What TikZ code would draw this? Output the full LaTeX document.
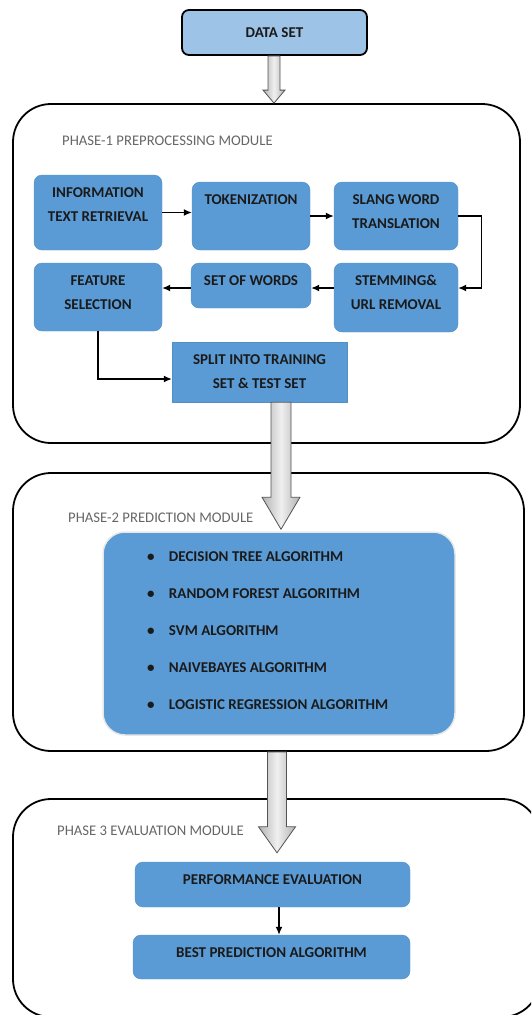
\documentclass[tikz,border=0pt]{standalone}
\usepackage{fontspec}
\setmainfont{Carlito}
\usetikzlibrary{arrows.meta,calc}
\definecolor{boxblue}{HTML}{5B9BD5}
\definecolor{dsblue}{HTML}{9DC3E6}
\definecolor{txtc}{HTML}{1A1A1A}
\definecolor{lblc}{HTML}{666666}

\newcommand\bxt[3]{\parbox[c][#2][t]{#1}{\centering\vspace*{12.5pt}#3\par}}
\newcommand\fatarrow[6]{%
  \draw[fat] let \p1=(#2), \p2=(#3) in
    (#1pt-#4pt,\y1) -- (#1pt+#4pt,\y1) -- (#1pt+#4pt,\y2+#6pt) -- (#1pt+#5pt,\y2+#6pt)
    -- (#1pt,\y2) -- (#1pt-#5pt,\y2+#6pt) -- (#1pt-#4pt,\y2+#6pt) -- cycle;}

\tikzset{
  phase/.style={draw=black, line width=1.8pt, rounded corners=38pt, inner sep=0pt},
  bluebox/.style={fill=boxblue, draw=boxblue!92!black, line width=0.4pt, rounded corners=8pt,
    inner sep=0pt, font=\bfseries\fontsize{15}{24}\selectfont, text=txtc},
  sqbox/.style={bluebox, rounded corners=0pt},
  dsbox/.style={fill=dsblue, draw=black, line width=1.8pt, rounded corners=7pt,
    minimum width=185pt, minimum height=45pt, inner sep=0pt,
    font=\bfseries\fontsize{15}{18}\selectfont, text=txtc},
  algbox/.style={fill=boxblue, draw=gray!18, line width=1.5pt, rounded corners=22pt,
    inner sep=0pt, font=\bfseries, text=txtc},
  phlabel/.style={anchor=west, inner sep=0pt, font=\fontsize{14.7}{17}\selectfont, text=lblc},
  conn/.style={draw=black, line width=1.3pt, -{Latex[length=8pt,width=7pt]}},
  fat/.style={draw=gray!65!black, line width=0.8pt, left color=gray!60, right color=gray!60, middle color=gray!12},
}

\begin{document}
\begin{tikzpicture}[x=1pt,y=-1pt]
\useasboundingbox (0,0) rectangle (531,1015);
\clip (0,0) rectangle (531,1015);

% phase containers
\node[phase, minimum width=507pt, minimum height=339pt] (p1) at (266.5,273.5) {};
\node[phase, minimum width=511pt, minimum height=278pt] (p2) at (268.5,612) {};
\node[phase, minimum width=527pt, minimum height=218pt] (p3) at (276.5,908) {};

\node[phlabel] (l1) at (62,141) {PHASE-1 PREPROCESSING MODULE};
\node[phlabel] (l2) at (68,518) {PHASE-2 PREDICTION MODULE};
\node[phlabel] (l3) at (57,831) {PHASE 3 EVALUATION MODULE};

% data set
\node[dsbox] (ds) at (274.5,32.5) {DATA SET};

% phase 1 boxes
\node[bluebox] (info)  at (98,212.5)  {\bxt{128pt}{75pt}{INFORMATION\\TEXT RETRIEVAL}};
\node[bluebox] (tok)   at (251,216)   {\bxt{118pt}{68pt}{TOKENIZATION}};
\node[bluebox] (slang) at (396,216)   {\bxt{124pt}{68pt}{SLANG WORD\\TRANSLATION}};
\node[bluebox] (feat)  at (98,297)    {\bxt{128pt}{68pt}{FEATURE\\SELECTION}};
\node[bluebox] (set)   at (251,285.5) {\bxt{120pt}{45pt}{SET OF WORDS}};
\node[bluebox] (stem)  at (396,297.5) {\bxt{124pt}{69pt}{STEMMING\&\\URL REMOVAL}};
\node[sqbox]   (split) at (259.5,372) {\bxt{175pt}{60pt}{SPLIT INTO TRAINING\\SET \& TEST SET}};

% phase 2 box
\node[algbox] (alg) at (279,633.5) {\parbox[c][203pt][t]{352pt}{\leftskip=44pt
  \fontsize{15}{37}\selectfont\vspace*{20pt}%
  \makebox[22pt][l]{\textbullet}DECISION TREE ALGORITHM\\
  \makebox[22pt][l]{\textbullet}RANDOM FOREST ALGORITHM\\
  \makebox[22pt][l]{\textbullet}SVM ALGORITHM\\
  \makebox[22pt][l]{\textbullet}NAIVEBAYES ALGORITHM\\
  \makebox[22pt][l]{\textbullet}LOGISTIC REGRESSION ALGORITHM\par}};

% phase 3 boxes
\node[bluebox] (perf) at (272.5,884.5) {\bxt{275pt}{45pt}{PERFORMANCE EVALUATION}};
\node[bluebox] (best) at (271.5,957)   {\bxt{277pt}{44pt}{BEST PREDICTION ALGORITHM}};

% connectors
\draw[conn] (info.east) -- (info.east -| tok.west);
\draw[conn] (tok.east) -- (slang.west);
\draw[conn] (slang.east) -- ++(23,0) |- ([yshift=9.5pt]stem.east);
\draw[conn] ([yshift=9.5pt]stem.west) -- ([yshift=9.5pt]stem.west -| set.east);
\draw[conn] ([yshift=-2.5pt]set.west) -- ([yshift=-2.5pt]set.west -| feat.east);
\draw[conn] (feat.south) |- ([yshift=-7pt]split.west);
\draw[conn] ([xshift=6.5pt]perf.south) -- ([xshift=6.5pt]perf.south |- best.north);

% block arrows
\fatarrow{274}{ds.south}{p1.north}{6}{11}{13}
\fatarrow{281}{split.south}{[yshift=2pt]alg.north}{10}{19}{32}
\fatarrow{277}{p2.south}{[yshift=9pt]perf.north}{9.5}{18.5}{26}
\end{tikzpicture}
\end{document}
